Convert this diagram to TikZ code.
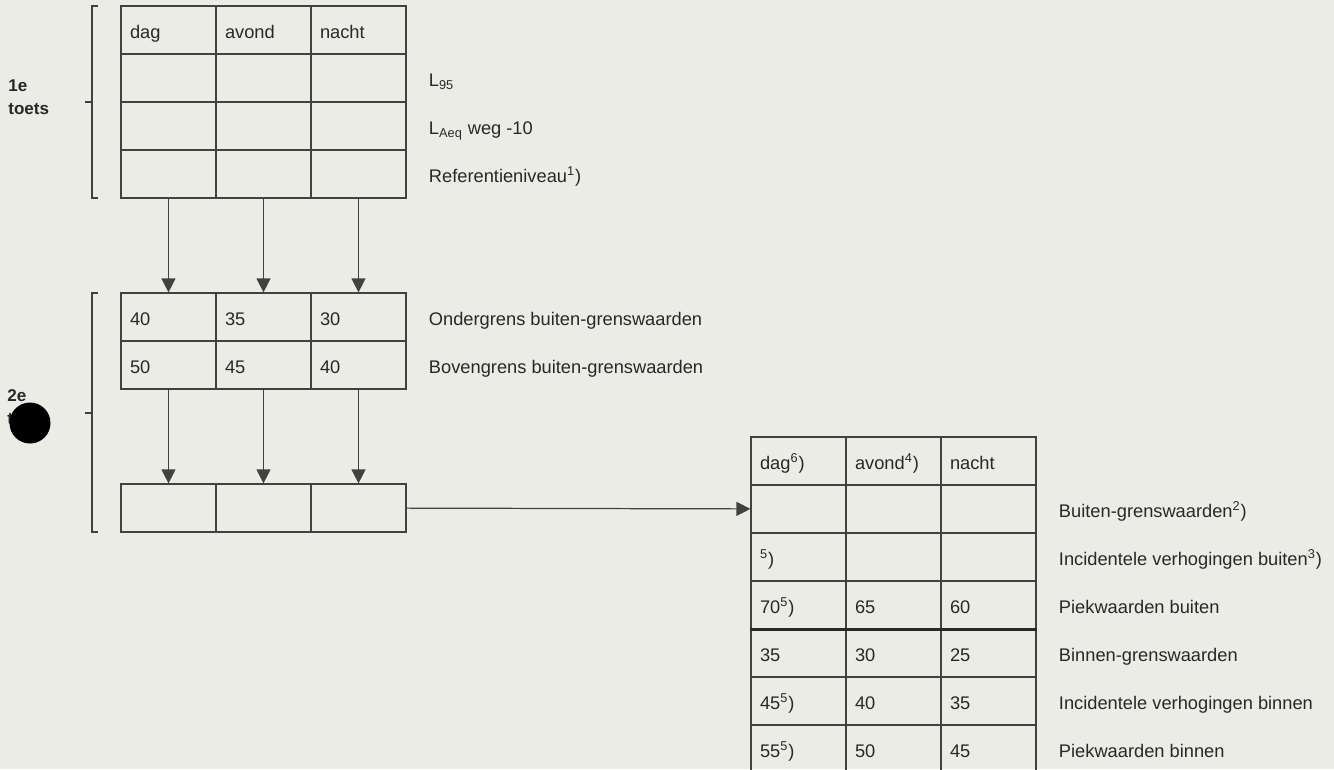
\documentclass[tikz,border=0pt]{standalone}
\usepackage{fontspec}
\setmainfont{Liberation Sans}
\usepackage{tikz}
\usetikzlibrary{arrows.meta, positioning}
\definecolor{paper}{RGB}{236,236,231}
\definecolor{ink}{RGB}{40,40,40}
\definecolor{rule}{RGB}{65,65,65}

\begin{document}
\begin{tikzpicture}[
    x=0.02cm, y=-0.02cm,
    cell/.style={rectangle, draw=rule, line width=0.7pt, minimum width=1.9cm, minimum height=0.96cm, inner sep=0pt, text width=1.54cm, align=left, text height=0.94em, text depth=0em, font=\fontsize{10.4}{12}\selectfont, text=ink},
    rowlabel/.style={anchor=west, inner sep=0pt, text height=0.94em, text depth=0em, font=\fontsize{10.4}{12}\selectfont, text=ink},
    toets/.style={anchor=west, inner sep=0pt, align=left, font=\fontsize{9.7}{13}\selectfont\bfseries, text=ink},
    bracket/.style={draw=rule, line width=0.7pt},
    arrow/.style={-{Triangle[length=0.28cm, width=0.28cm]}, draw=rule, line width=0.7pt}
]
\clip (0,0) rectangle (1334,769);
\fill[paper] (0,0) rectangle (1334,769);

% 1e toets: first table
\foreach \c/\x/\t in {1/168.5/dag, 2/263.5/avond, 3/358.5/nacht}{
    \node[cell] (a1\c) at (\x,30) {\t};
    \foreach \r/\y in {2/78, 3/126, 4/174}
        \node[cell] (a\r\c) at (\x,\y) {};
}
\node[rowlabel, right=0.44cm of a23] {L\textsubscript{95}};
\node[rowlabel, right=0.44cm of a33] {L\textsubscript{Aeq} weg -10};
\node[rowlabel, right=0.44cm of a43] {Referentieniveau\textsuperscript{1})};

% 2e toets: bounds and result row
\foreach \c/\x/\p/\q in {1/168.5/40/50, 2/263.5/35/45, 3/358.5/30/40}{
    \node[cell] (b1\c) at (\x,317) {\p};
    \node[cell] (b2\c) at (\x,365) {\q};
    \node[cell] (c\c) at (\x,508) {};
}
\node[rowlabel, right=0.44cm of b13] {Ondergrens buiten-grenswaarden};
\node[rowlabel, right=0.44cm of b23] {Bovengrens buiten-grenswaarden};

% Arrows between the tables
\foreach \c in {1,2,3}{
    \draw[arrow] (a4\c) -- (b1\c);
    \draw[arrow] (b2\c) -- (c\c);
}

% Brackets and toets labels
\draw[bracket] (98,6) -- (92,6) -- (92,198) -- (98,198);
\draw[bracket] (85,102) -- (92,102);
\draw[bracket] (98,293) -- (92,293) -- (92,532) -- (98,532);
\draw[bracket] (85,413) -- (92,413);
\node[toets] (t1) at (8,97) {1e\\toets};
\node[toets] (t2) at (7,407) {2e\\toets};
\fill[black] (30,423) circle (20.5);

% Result table
\foreach \r/\y/\p/\q/\s in {1/461/{dag\textsuperscript{6})}/{avond\textsuperscript{4})}/nacht,
    2/509/{}/{}/{}, 3/557/{\textsuperscript{5})}/{}/{}, 4/605/{70\textsuperscript{5})}/65/60,
    5/653/35/30/25, 6/701/{45\textsuperscript{5})}/40/35, 7/749/{55\textsuperscript{5})}/50/45}{
    \node[cell] (d\r1) at (798.5,\y) {\p};
    \node[cell] (d\r2) at (893.5,\y) {\q};
    \node[cell] (d\r3) at (988.5,\y) {\s};
}
\draw[ink, line width=2pt] (d41.south west) -- (d43.south east);
\draw[arrow] (c3) -- (d21);

\node[rowlabel, right=0.44cm of d23] {Buiten-grenswaarden\textsuperscript{2})};
\node[rowlabel, right=0.44cm of d33] {Incidentele verhogingen buiten\textsuperscript{3})};
\node[rowlabel, right=0.44cm of d43] {Piekwaarden buiten};
\node[rowlabel, right=0.44cm of d53] {Binnen-grenswaarden};
\node[rowlabel, right=0.44cm of d63] {Incidentele verhogingen binnen};
\node[rowlabel, right=0.44cm of d73] {Piekwaarden binnen};
\end{tikzpicture}
\end{document}
